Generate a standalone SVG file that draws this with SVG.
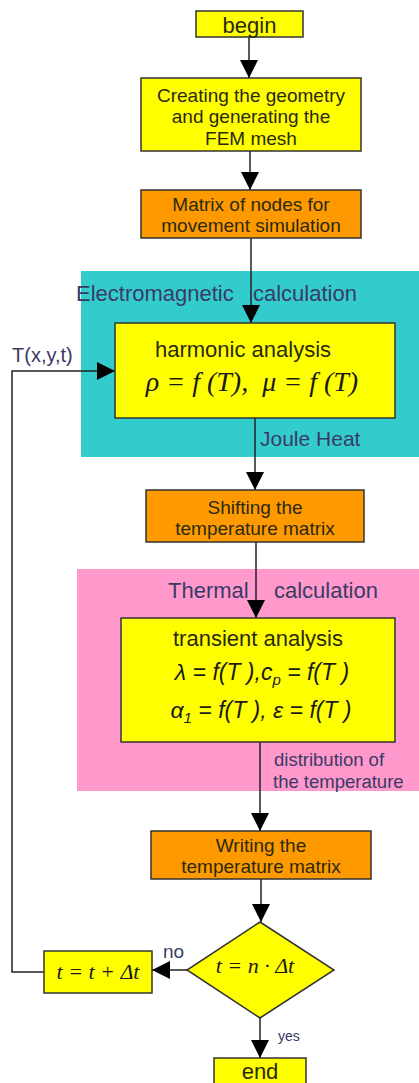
<svg xmlns="http://www.w3.org/2000/svg" width="419" height="1083" viewBox="0 0 419 1083">
<style>
.box{stroke:#333;stroke-width:1.5}
.y{fill:#ffff00}
.o{fill:#ff9900}
.t{font-family:"Liberation Sans",Arial,sans-serif;font-size:19px;fill:#2a2a10;text-anchor:middle}
.big{font-size:22px}
.lbl{font-family:"Liberation Sans",Arial,sans-serif;fill:#3a3a66}
.math{font-family:"Liberation Serif","Times New Roman",serif;font-style:italic;fill:#1a1a1a;text-anchor:middle}
.maths{font-family:"Liberation Sans",Arial,sans-serif;font-style:italic;fill:#1a1a1a;text-anchor:middle;font-size:23px}
.c{fill:none;stroke:#222;stroke-width:1.5}
</style>
<defs>
<marker id="ah" markerUnits="userSpaceOnUse" markerWidth="20" markerHeight="20" refX="18" refY="10" orient="auto">
<path d="M0,1 L18,10 L0,19 z" fill="#000"/>
</marker>
</defs>
<rect width="419" height="1083" fill="#fff"/>
<g id="region-em">
<rect x="81" y="271" width="338" height="186" fill="#33cccc"/>
<text class="lbl" x="76" y="301" font-size="22">Electromagnetic</text>
<text class="lbl" x="253" y="301" font-size="22">calculation</text>
</g>
<g id="region-th">
<rect x="77" y="569" width="342" height="222" fill="#ff99cc"/>
<text class="lbl" x="168" y="598" font-size="22">Thermal</text>
<text class="lbl" x="274" y="598" font-size="22">calculation</text>
</g>
<g id="connectors">
<line class="c" x1="249" y1="37" x2="249" y2="78" marker-end="url(#ah)"/>
<line class="c" x1="250" y1="151" x2="250" y2="190" marker-end="url(#ah)"/>
<line class="c" x1="251" y1="238" x2="251" y2="323" marker-end="url(#ah)"/>
<line class="c" x1="255" y1="418" x2="255" y2="490" marker-end="url(#ah)"/>
<line class="c" x1="256" y1="542" x2="256" y2="618" marker-end="url(#ah)"/>
<line class="c" x1="260" y1="742" x2="260" y2="831" marker-end="url(#ah)"/>
<line class="c" x1="261" y1="879" x2="261" y2="922" marker-end="url(#ah)"/>
<line class="c" x1="187" y1="970" x2="152" y2="970" marker-end="url(#ah)"/>
<line class="c" x1="260" y1="1018" x2="260" y2="1058" marker-end="url(#ah)"/>
<polyline class="c" points="44,972 12,972 12,371 115,371" marker-end="url(#ah)"/>
<text class="lbl" x="12" y="362" font-size="20">T(x,y,t)</text>
<text class="lbl" x="260" y="446" font-size="21">Joule Heat</text>
<text class="lbl" x="274" y="766" font-size="18.5">distribution of</text>
<text class="lbl" x="273" y="788" font-size="18.5">the temperature</text>
<text class="lbl" x="163" y="958" font-size="19">no</text>
<text class="lbl" x="278" y="1041" font-size="14">yes</text>
</g>
<g id="begin">
<rect class="box y" x="196" y="11" width="107" height="26"/>
<text class="t big" x="249.5" y="33">begin</text>
</g>
<g id="geometry">
<rect class="box y" x="141" y="78" width="220" height="73"/>
<text class="t" x="251" y="102">Creating the geometry</text>
<text class="t" x="251" y="123">and generating the</text>
<text class="t" x="251" y="145">FEM mesh</text>
</g>
<g id="matrix">
<rect class="box o" x="141" y="190" width="220" height="48"/>
<text class="t" x="251" y="211">Matrix of nodes for</text>
<text class="t" x="251" y="232">movement simulation</text>
</g>
<g id="harmonic">
<rect class="box y" x="115" y="323" width="280" height="95"/>
<text class="t big" x="243" y="357">harmonic analysis</text>
<text class="math" x="252" y="391" font-size="28">ρ = f (T), &#160;μ = f (T)</text>
</g>
<g id="shifting">
<rect class="box o" x="146" y="490" width="218" height="52"/>
<text class="t" x="255" y="514">Shifting the</text>
<text class="t" x="255" y="535">temperature matrix</text>
</g>
<g id="transient">
<rect class="box y" x="121" y="618" width="274" height="124"/>
<text class="t big" x="258" y="646">transient analysis</text>
<text class="maths" x="262" y="680">λ = f(T ),c<tspan font-size="15" dy="5">p</tspan><tspan dy="-5"> = f(T )</tspan></text>
<text class="maths" x="261" y="718">α<tspan font-size="15" dy="5">1</tspan><tspan dy="-5"> = f(T ), ε = f(T )</tspan></text>
</g>
<g id="writing">
<rect class="box o" x="151" y="831" width="220" height="48"/>
<text class="t" x="261" y="852">Writing the</text>
<text class="t" x="261" y="873">temperature matrix</text>
</g>
<g id="decision">
<polygon class="box y" points="260,922 334,970 260,1018 187,970"/>
<text class="math" x="255" y="973" font-size="22">t = n · Δt</text>
</g>
<g id="increment">
<rect class="box y" x="44" y="951" width="108" height="42"/>
<text class="math" x="98" y="979" font-size="22">t = t + Δt</text>
</g>
<g id="end">
<rect class="box y" x="214" y="1058" width="92" height="30"/>
<text class="t big" x="260" y="1079">end</text>
</g>
</svg>
